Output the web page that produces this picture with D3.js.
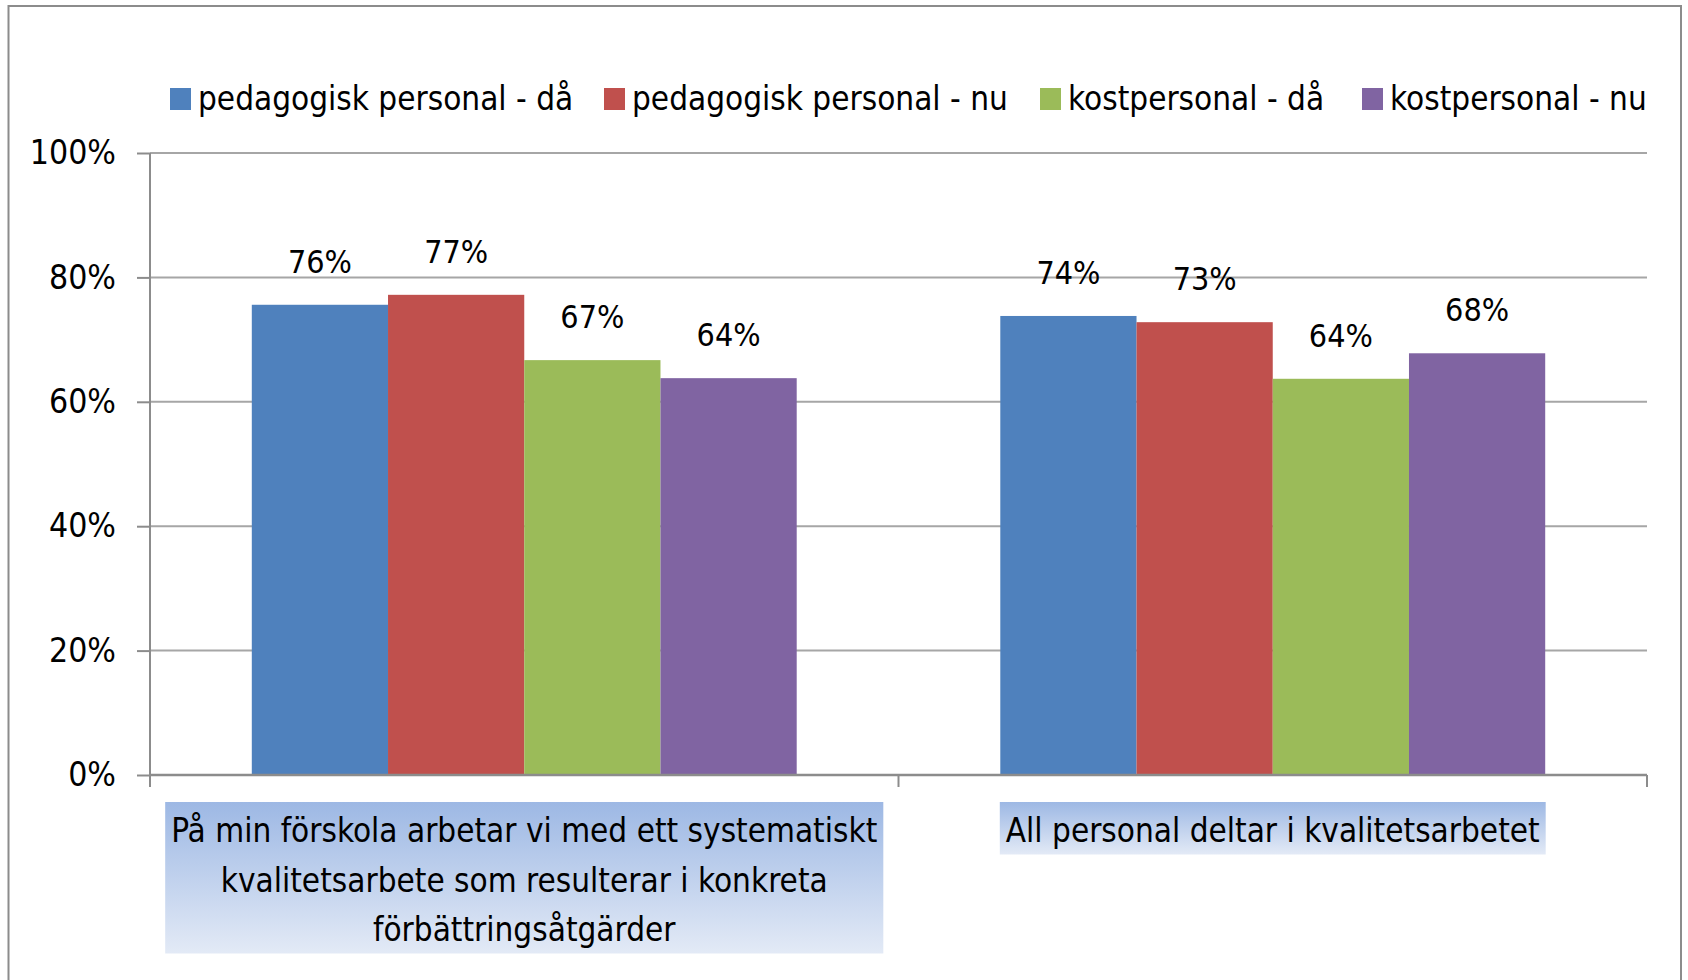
<!DOCTYPE html>
<html><head><meta charset="utf-8">
<script src="https://cdn.jsdelivr.net/npm/d3@7"></script>
<style>
html,body{margin:0;padding:0;background:#fff;}
svg text{font-family:"Liberation Sans Narrow","DejaVu Sans Condensed","Liberation Sans",sans-serif;fill:#000;}
</style></head>
<body><svg id="c" width="1688" height="980"></svg>
<script>
const categories = [
  ["På min förskola arbetar vi med ett systematiskt","kvalitetsarbete som resulterar i konkreta","förbättringsåtgärder"],
  ["All personal deltar i kvalitetsarbetet"]
];
const categoryKeys = ["kvalitet", "deltar"];
const seriesNames = ["pedagogisk personal - då","pedagogisk personal - nu","kostpersonal - då","kostpersonal - nu"];
const seriesColors = ["#4F81BD","#C0504D","#9BBB59","#8064A2"];
const pedagogiskDa = [0.756, 0.738];
const pedagogiskNu = [0.772, 0.728];
const kostDa = [0.667, 0.637];
const kostNu = [0.638, 0.678];
const yTicks = [0, 0.2, 0.4, 0.6, 0.8, 1.0];

const series = [pedagogiskDa, pedagogiskNu, kostDa, kostNu];

const svg = d3.select("#c");
const W = 1688, H = 980;
const plot = {left: 150, right: 1647, top: 153, bottom: 775};

// outer frame
svg.append("rect").attr("x",8.5).attr("y",6).attr("width",1672.5).attr("height",H+20)
  .attr("fill","none").attr("stroke","#8c8c8c").attr("stroke-width",2);

const y = d3.scaleLinear().domain([0,1]).range([plot.bottom, plot.top]);
const x0 = d3.scaleBand().domain(categoryKeys).range([plot.left, plot.right])
  .paddingInner(0.272).paddingOuter(0.136);
const x1 = d3.scaleBand().domain(d3.range(seriesNames.length)).range([0, x0.bandwidth()]).padding(0);

// gridlines
svg.append("g").selectAll("line").data(yTicks.filter(d=>d>0)).join("line")
  .attr("x1",plot.left).attr("x2",plot.right)
  .attr("y1",d=>y(d)).attr("y2",d=>y(d))
  .attr("stroke","#a6a6a6").attr("stroke-width",2);

// y axis
const yAxis = svg.append("g").attr("transform",`translate(${plot.left},0)`)
  .call(d3.axisLeft(y).tickValues(yTicks).tickFormat(d3.format(".0%")).tickSize(13).tickPadding(21));
yAxis.select(".domain").attr("stroke","#8c8c8c").attr("stroke-width",2).attr("d",`M0,${plot.top}V${plot.bottom}`);
yAxis.selectAll(".tick line").attr("stroke","#8c8c8c").attr("stroke-width",2);
yAxis.selectAll(".tick text").attr("font-size",33.5).attr("fill","#000")
  .style("font-family",'"Liberation Sans Narrow","DejaVu Sans Condensed",sans-serif');

// bars
const groups = svg.append("g").selectAll("g").data(categoryKeys).join("g")
  .attr("transform",d=>`translate(${x0(d)},0)`);
groups.each(function(cat, ci){
  const g = d3.select(this);
  series.forEach((s, si)=>{
    g.append("rect").attr("x",x1(si)).attr("width",x1.bandwidth())
      .attr("y",y(s[ci])).attr("height",plot.bottom - y(s[ci]))
      .attr("fill",seriesColors[si]);
    g.append("text").attr("x",x1(si)+x1.bandwidth()/2).attr("y",y(s[ci]) - 32)
      .attr("text-anchor","middle").attr("font-size",32)
      .text(Math.round(s[ci]*100) + "%");
  });
});

// x axis
const xAxisG = svg.append("g");
xAxisG.append("line").attr("x1",plot.left).attr("x2",plot.right).attr("y1",plot.bottom).attr("y2",plot.bottom)
  .attr("stroke","#8c8c8c").attr("stroke-width",2.5);
const bounds = [plot.left, ...categoryKeys.slice(1).map(k=>x0(k) - x0.step()*x0.paddingInner()/2), plot.right];
xAxisG.selectAll("line.t").data(bounds).join("line").attr("class","t")
  .attr("x1",d=>d).attr("x2",d=>d).attr("y1",plot.bottom).attr("y2",plot.bottom+12)
  .attr("stroke","#8c8c8c").attr("stroke-width",2);

// category labels with gradient boxes
const defs = svg.append("defs");
const grad = defs.append("linearGradient").attr("id","lblgrad").attr("x1",0).attr("y1",0).attr("x2",0).attr("y2",1);
grad.append("stop").attr("offset","0%").attr("stop-color","#9db8e4");
grad.append("stop").attr("offset","100%").attr("stop-color","#e3eaf6");

const lineH = 49.5;
categoryKeys.forEach((k, ci)=>{
  const lines = categories[ci];
  const cx = x0(k) + x0.bandwidth()/2;
  const g = svg.append("g");
  const t = g.append("text").attr("text-anchor","middle").attr("font-size",33);
  lines.forEach((ln, li)=>{
    t.append("tspan").attr("x",cx).attr("y",842 + li*lineH).text(ln);
  });
  const bb = t.node().getBBox();
  g.insert("rect","text").attr("x",bb.x-6).attr("y",802).attr("width",bb.width+12)
    .attr("height",lines.length*lineH + 3).attr("fill","url(#lblgrad)");
});

// legend
const legendX = [170, 604, 1040, 1362];
const lg = svg.append("g").selectAll("g").data(seriesNames).join("g")
  .attr("transform",(d,i)=>`translate(${legendX[i]},99)`);
lg.append("rect").attr("x",0).attr("y",-11).attr("width",21).attr("height",22).attr("fill",(d,i)=>seriesColors[i]);
lg.append("text").attr("x",28).attr("y",11).attr("font-size",33).text(d=>d);
</script></body></html>
